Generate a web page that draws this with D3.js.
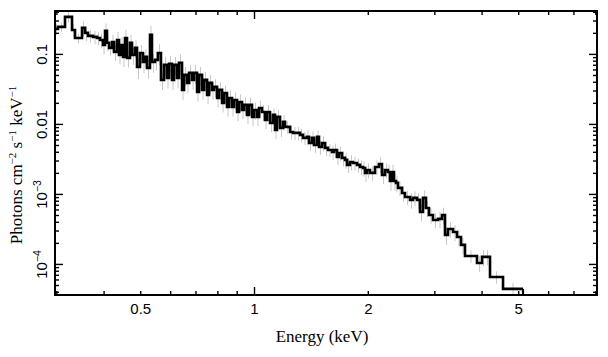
<!DOCTYPE html>
<html><head><meta charset="utf-8">
<script src="https://cdn.jsdelivr.net/npm/d3@7"></script>
<style>body{margin:0;background:#fff}svg{display:block}</style>
</head><body>
<svg id="c" width="608" height="357"></svg>
<script>
// ---- data (keV bin edges, photons cm^-2 s^-1 keV^-1) ----
const binEdges = [
0.2975,0.3030,0.3162,0.3300,0.3361,0.3507,0.3572,0.3638,0.3751,0.3843,0.3914,0.3986,0.4035,0.4084,0.4135,0.4211,0.4262,0.4341,0.4394,0.4448,0.4502,0.4557,0.4613,0.4698,0.4756,0.4843,0.4903,0.4993,0.5085,0.5147,0.5210,0.5306,0.5371,0.5470,
0.5571,0.5674,0.5780,0.5886,0.5958,0.6068,0.6143,0.6256,0.6333,0.6450,0.6529,0.6650,0.6731,0.6856,0.6940,0.7068,0.7155,0.7287,0.7377,0.7513,0.7605,0.7743,0.7839,0.7984,0.8082,0.8231,0.8331,0.8483,0.8587,0.8745,0.8853,0.9017,0.9128,0.9296,0.9409,0.9582,0.9700,0.9879,1.0000,1.0184,1.0309,1.0499,
1.0693,1.0824,1.1024,1.1228,1.1365,1.1505,1.1717,1.1934,1.2080,1.2454,1.2683,1.2996,1.3235,1.3479,1.3811,1.3980,1.4238,1.4413,1.4678,1.4858,1.5132,1.5411,1.5695,1.6082,1.6279,1.6579,1.6783,1.7092,1.7408,1.7621,1.7946,1.8277,1.8728,1.9073,1.9425,1.9663,1.9904,2.0271,
2.0894,2.1411,2.1805,2.2207,2.2617,2.2894,2.3175,2.3459,2.3746,2.4037,2.4630,2.5085,2.5862,2.6339,2.6989,2.7487,2.7994,2.8512,2.9037,2.9754,3.0675,3.1430,3.2010,3.2600,3.3609,3.4437,3.5286,3.6155,3.8899,4.0102,4.0842,4.2109,4.5581,5.1481
];
const flux = [
0.228,0.243,0.338,0.220,0.169,0.235,0.200,0.181,0.175,0.169,0.158,0.134,0.213,0.144,0.122,0.148,0.107,0.158,0.0968,0.134,0.0906,0.169,0.0877,0.144,0.0968,0.122,0.0652,0.103,0.0768,0.0906,0.0631,0.187,0.0768,
0.0821,0.103,0.0425,0.0697,0.0454,0.0720,0.0425,0.0697,0.0454,0.0744,0.0306,0.0501,0.0385,0.0535,0.0425,0.0535,0.0286,0.0501,0.0306,0.0425,0.0260,0.0385,0.0306,0.0338,0.0235,0.0306,0.0200,0.0277,0.0175,0.0235,0.0175,0.0220,0.0148,0.0206,0.0158,0.0187,0.01345,0.0187,0.0126,0.0158,0.0126,0.0169,
0.0148,0.0114,0.0148,0.0103,0.01345,0.00821,0.0126,0.00877,0.0107,0.00906,0.00768,0.00744,0.00744,0.00697,0.00631,0.00652,0.00535,0.00631,0.00501,0.00652,0.00469,0.00535,0.00454,0.00425,0.00398,0.00425,0.00338,0.00385,0.00327,0.00306,0.00260,0.00286,0.00277,0.00260,0.00243,0.00235,0.00200,0.00220,
0.00200,0.00243,0.00268,0.00187,0.00220,0.00206,0.00153,0.00206,0.00153,0.00144,0.00122,0.00103,0.000906,0.000821,0.000877,0.000821,0.000553,0.000877,0.000631,0.000501,0.000425,0.000440,0.000501,0.000260,0.000316,0.000286,0.000243,0.000187,0.000130,0.000103,0.000126,0.000126,0.0000652,0.0000440
];
const fluxRelErr = [
0.18,0.15,0.17,0.22,0.16,0.25,0.24,0.2,0.22,0.21,0.24,0.26,0.28,0.25,0.22,0.27,0.26,0.3,0.27,0.29,0.28,0.32,0.27,0.3,0.28,0.3,0.33,0.3,0.31,0.29,0.3,0.34,0.3,
0.3,0.33,0.28,0.3,0.29,0.31,0.28,0.3,0.29,0.32,0.28,0.3,0.29,0.31,0.28,0.3,0.27,0.3,0.28,0.3,0.27,0.3,0.28,0.29,0.27,0.29,0.27,0.28,0.27,0.28,0.27,0.28,0.26,0.28,0.26,0.27,0.26,0.27,0.26,0.27,0.26,0.27,
0.25,0.26,0.25,0.26,0.25,0.26,0.25,0.26,0.25,0.2,0.22,0.21,0.22,0.22,0.21,0.24,0.23,0.24,0.23,0.24,0.23,0.24,0.23,0.21,0.24,0.23,0.24,0.23,0.24,0.25,0.23,0.24,0.22,0.23,0.24,0.25,0.26,0.24,
0.23,0.24,0.25,0.26,0.25,0.27,0.28,0.27,0.28,0.27,0.24,0.25,0.23,0.25,0.24,0.26,0.27,0.28,0.26,0.25,0.24,0.26,0.27,0.28,0.25,0.26,0.27,0.26,0.2,0.25,0.26,0.24,0.2,0.22
];
const xLabelValues = [0.5, 1, 2, 5];
const xLabelTexts = ["0.5", "1", "2", "5"];
const yLabelValues = [1e-4, 1e-3, 1e-2, 1e-1];
const yLabelTexts = [["10","−4"], ["10","−3"], ["0.01",""], ["0.1",""]];
const xTitle = "Energy (keV)";
const yTitleParts = [["Photons cm",""],["","−2"],[" s",""],["","−1"],[" keV",""],["","−1"]];

// ---- layout ----
const L = 55, R = 597, T = 11, B = 295;
const svg = d3.select("#c");
const x = d3.scaleLog().domain([0.2975, 8.08]).range([L, R]);
const y = d3.scaleLog().domain([3.6e-5, 0.41]).range([B, T]);

const isDecade = v => Math.abs(Math.log10(v) - Math.round(Math.log10(v))) < 1e-6;
const xt = x.ticks(), yt = y.ticks();
const xMaj = xt.filter(isDecade), xMin = xt.filter(v => !isDecade(v));
const yMaj = yt.filter(isDecade), yMin = yt.filter(v => !isDecade(v));

svg.append("defs").append("clipPath").attr("id","clip")
  .append("rect").attr("x",L).attr("y",T).attr("width",R-L).attr("height",B-T);

const plot = svg.append("g").attr("clip-path","url(#clip)");
const n = Math.min(flux.length, binEdges.length - 1);
const bins = d3.range(n).map(i => ({lo: binEdges[i], hi: binEdges[i+1], v: flux[i], e: fluxRelErr[i] || 0.25}));

// error bars
plot.append("g").selectAll("line").data(bins).join("line")
  .attr("x1", d => x(Math.sqrt(d.lo*d.hi))).attr("x2", d => x(Math.sqrt(d.lo*d.hi)))
  .attr("y1", d => y(d.v*(1+d.e))).attr("y2", d => y(Math.max(d.v*(1-d.e), 1e-7)))
  .attr("stroke", "#c8c8c8").attr("stroke-width", 1);

// step histogram
const pts = bins.map(d => [d.lo, d.v]);
pts.push([bins[n-1].hi, bins[n-1].v]);
const line = d3.line().x(d => x(d[0])).y(d => y(d[1])).curve(d3.curveStepAfter);
plot.append("path").attr("d", line(pts)).attr("fill","none")
  .attr("stroke","#000").attr("stroke-width",2.6).attr("stroke-linejoin","miter");
plot.append("line").attr("x1", x(bins[n-1].hi)).attr("x2", x(bins[n-1].hi))
  .attr("y1", y(bins[n-1].v)).attr("y2", B + 5).attr("stroke","#000").attr("stroke-width",2.2);

// ticks on all four sides
function ticks(axisFn, pos, vals, size, horiz) {
  const g = svg.append("g").attr("transform", horiz ? `translate(0,${pos})` : `translate(${pos},0)`)
    .call(axisFn.tickValues(vals).tickSize(size).tickFormat(""));
  g.select(".domain").remove();
  g.selectAll("line").attr("stroke","#000").attr("stroke-width",1.4);
}
ticks(d3.axisBottom(x), B, xMin, -4, true);
ticks(d3.axisBottom(x), B, xMaj, -8, true);
ticks(d3.axisTop(x), T, xMin, -4, true);
ticks(d3.axisTop(x), T, xMaj, -8, true);
ticks(d3.axisLeft(y), L, yMin, -4, false);
ticks(d3.axisLeft(y), L, yMaj, -8, false);
ticks(d3.axisRight(y), R, yMin, -4, false);
ticks(d3.axisRight(y), R, yMaj, -8, false);

// frame
svg.append("rect").attr("x",L).attr("y",T).attr("width",R-L).attr("height",B-T)
  .attr("fill","none").attr("stroke","#000").attr("stroke-width",2);

// x tick labels
const gxl = svg.append("g").attr("transform",`translate(0,${B})`)
  .call(d3.axisBottom(x).tickValues(xLabelValues).tickSize(0).tickPadding(8)
    .tickFormat((d,i) => xLabelTexts[i]));
gxl.select(".domain").remove();
gxl.selectAll("text").attr("font-family","'Liberation Sans', Arial, sans-serif")
  .attr("font-size",15).attr("fill","#000");

// y tick labels (rotated)
const gyl = svg.append("g").attr("transform",`translate(${L},0)`)
  .call(d3.axisLeft(y).tickValues(yLabelValues).tickSize(0).tickFormat(""));
gyl.select(".domain").remove();
gyl.selectAll(".tick").each(function(d, i) {
  const t = d3.select(this).select("text")
    .attr("transform","rotate(-90)").attr("x",0).attr("y",-8).attr("dy",null)
    .attr("text-anchor","middle").attr("font-family","'Liberation Sans', Arial, sans-serif")
    .attr("font-size",15).attr("fill","#000");
  const lab = yLabelTexts[i];
  t.append("tspan").text(lab[0]);
  if (lab[1]) t.append("tspan").attr("font-size",10.5).attr("dy",-6).text(lab[1]);
});

// axis titles
svg.append("text").attr("x",(L+R)/2 - 4).attr("y",342).attr("text-anchor","middle")
  .attr("font-family","'Liberation Serif', 'Times New Roman', serif").attr("font-size",17)
  .attr("fill","#000").text(xTitle);
const yt2 = svg.append("text").attr("transform","translate(22,165) rotate(-90)")
  .attr("text-anchor","middle").attr("font-family","'Liberation Serif', 'Times New Roman', serif")
  .attr("font-size",17).attr("fill","#000");
let raised = false;
yTitleParts.forEach(p => {
  if (p[0]) { yt2.append("tspan").attr("dy", raised ? 6 : 0).text(p[0]); raised = false; }
  if (p[1]) { yt2.append("tspan").attr("font-size",11).attr("dy", raised ? 0 : -6).text(p[1]); raised = true; }
});
</script>
</body></html>
